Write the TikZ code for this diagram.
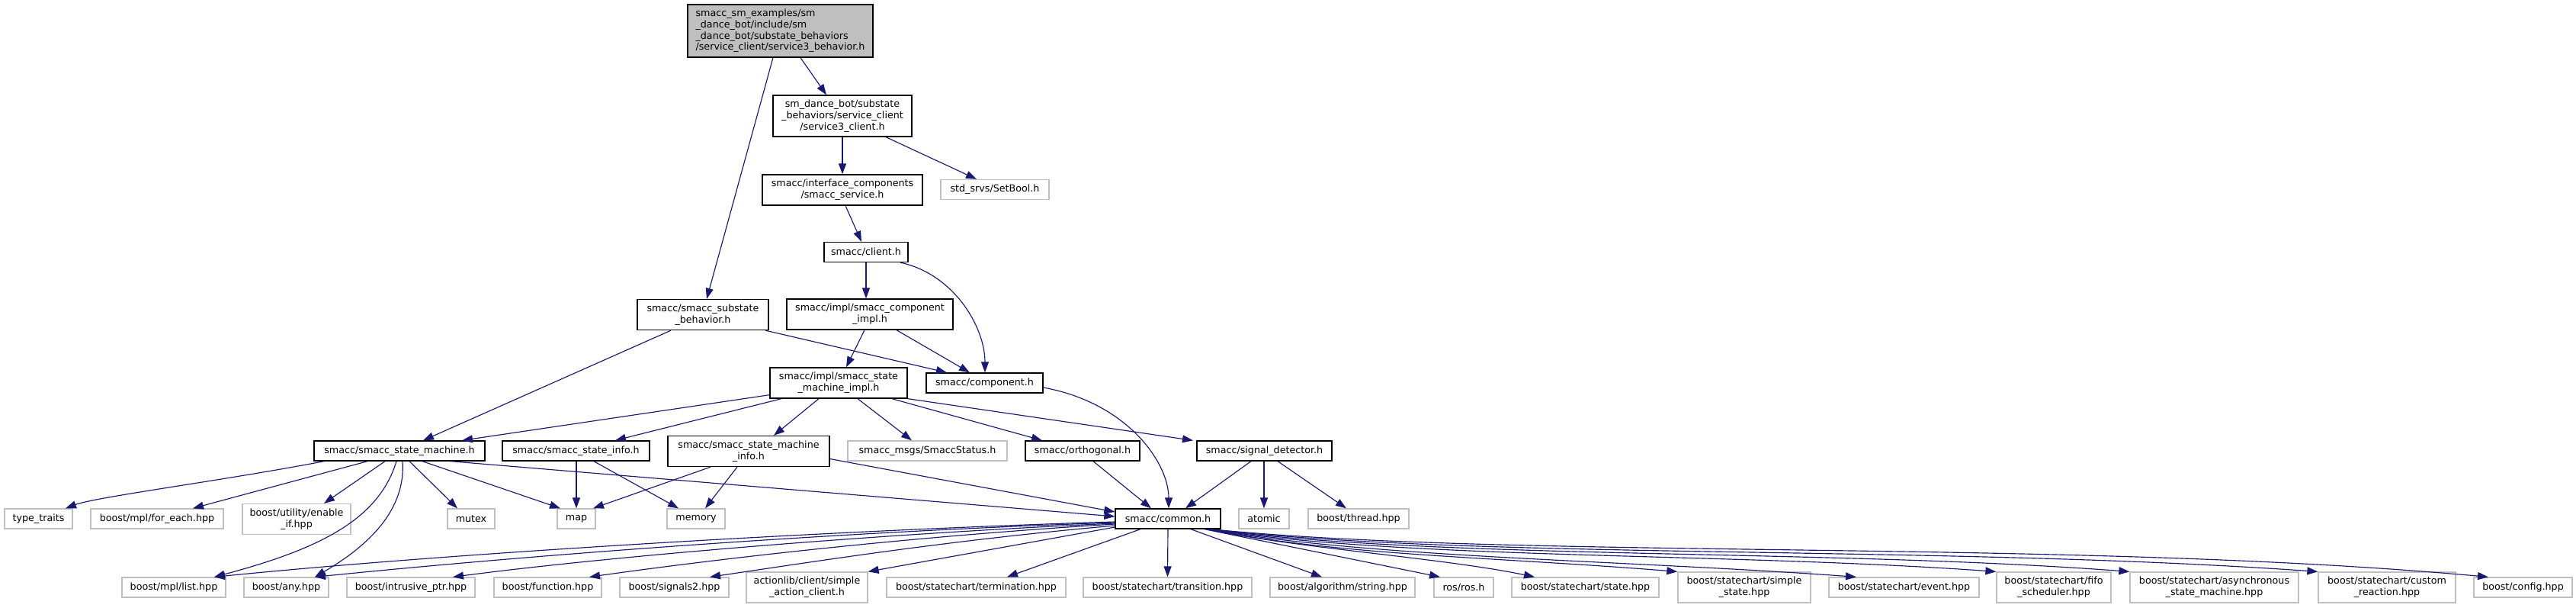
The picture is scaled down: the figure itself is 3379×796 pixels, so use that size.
\documentclass[tikz,border=0pt]{standalone}
\usepackage{fontspec}
\setmainfont{DejaVu Sans}
\usetikzlibrary{arrows.meta}
\definecolor{edgeblue}{RGB}{25,25,112}
\definecolor{extgray}{RGB}{191,191,191}
\definecolor{rootgray}{RGB}{191,191,191}
\newcommand\nodefont{\fontsize{12.7pt}{14.7pt}\selectfont}
\tikzset{
  nb/.style={draw=black, line width=1.3pt, fill=white, inner sep=0pt, align=center, font=\nodefont},
  ne/.style={nb, draw=extgray},
  rt/.style={nb, fill=rootgray, align=left},
  dep/.style={draw=edgeblue, line width=1.15pt, -{Triangle[length=14pt,width=10pt]}},
}
\begin{document}
\begin{tikzpicture}[x=1pt,y=-1pt]
\useasboundingbox (0,0) rectangle (3379,796);
% nodes
\node[rt, minimum width=243pt, minimum height=69pt] (root) at (1023.5,40.5) {smacc\_sm\_examples/sm\\\_dance\_bot/include/sm\\\_dance\_bot/substate\_behaviors\\/service\_client/service3\_behavior.h};
\node[nb, minimum width=182pt, minimum height=54pt] (s3c) at (1105,152) {sm\_dance\_bot/substate\\\_behaviors/service\_client\\/service3\_client.h};
\node[nb, minimum width=210pt, minimum height=40pt] (svc) at (1105,249) {smacc/interface\_components\\/smacc\_service.h};
\node[ne, minimum width=142pt, minimum height=26pt] (setbool) at (1305,248.5) {std\_srvs/SetBool.h};
\node[nb, minimum width=110pt, minimum height=26pt] (client) at (1136,330.5) {smacc/client.h};
\node[nb, minimum width=218pt, minimum height=40pt] (cimpl) at (1141,412) {smacc/impl/smacc\_component\\\_impl.h};
\node[nb, minimum width=172pt, minimum height=40pt] (sbeh) at (922,412.5) {smacc/smacc\_substate\\\_behavior.h};
\node[nb, minimum width=180pt, minimum height=40pt] (smimpl) at (1100,502) {smacc/impl/smacc\_state\\\_machine\_impl.h};
\node[nb, minimum width=153pt, minimum height=26pt] (comp) at (1291.5,502) {smacc/component.h};
\node[nb, minimum width=224pt, minimum height=26pt] (sm) at (524,591) {smacc/smacc\_state\_machine.h};
\node[nb, minimum width=193pt, minimum height=26pt] (sinfo) at (755.5,591) {smacc/smacc\_state\_info.h};
\node[nb, minimum width=212pt, minimum height=40pt] (sminfo) at (982,591.5) {smacc/smacc\_state\_machine\\\_info.h};
\node[ne, minimum width=209pt, minimum height=26pt] (status) at (1216.5,591) {smacc\_msgs/SmaccStatus.h};
\node[nb, minimum width=150pt, minimum height=26pt] (orth) at (1420,591) {smacc/orthogonal.h};
\node[nb, minimum width=177pt, minimum height=26pt] (sig) at (1658.5,591) {smacc/signal\_detector.h};
\node[ne, minimum width=89pt, minimum height=26pt] (tt) at (50.5,680) {type\_traits};
\node[ne, minimum width=174pt, minimum height=26pt] (fe) at (206,680) {boost/mpl/for\_each.hpp};
\node[ne, minimum width=142pt, minimum height=40pt] (ei) at (389,680.5) {boost/utility/enable\\\_if.hpp};
\node[ne, minimum width=62pt, minimum height=26pt] (mutex) at (618,680) {mutex};
\node[ne, minimum width=50pt, minimum height=26pt] (map) at (756,680) {map};
\node[ne, minimum width=76pt, minimum height=26pt] (memory) at (913,680) {memory};
\node[nb, minimum width=138pt, minimum height=26pt] (common) at (1532,680) {smacc/common.h};
\node[ne, minimum width=66pt, minimum height=26pt] (atomic) at (1658,680) {atomic};
\node[ne, minimum width=132pt, minimum height=26pt] (thread) at (1782,680) {boost/thread.hpp};
\node[ne, minimum width=136pt, minimum height=26pt] (list) at (228,770) {boost/mpl/list.hpp};
\node[ne, minimum width=111pt, minimum height=26pt] (any) at (375.5,770) {boost/any.hpp};
\node[ne, minimum width=168pt, minimum height=26pt] (intr) at (539,770) {boost/intrusive\_ptr.hpp};
\node[ne, minimum width=141pt, minimum height=26pt] (func) at (718.5,770) {boost/function.hpp};
\node[ne, minimum width=143pt, minimum height=26pt] (sigtwo) at (884.5,770) {boost/signals2.hpp};
\node[ne, minimum width=159pt, minimum height=40pt] (alib) at (1058.5,770) {actionlib/client/simple\\\_action\_client.h};
\node[ne, minimum width=235pt, minimum height=26pt] (term) at (1280.5,770) {boost/statechart/termination.hpp};
\node[ne, minimum width=221pt, minimum height=26pt] (trans) at (1531.5,770) {boost/statechart/transition.hpp};
\node[ne, minimum width=190pt, minimum height=26pt] (algo) at (1761,770) {boost/algorithm/string.hpp};
\node[ne, minimum width=78pt, minimum height=26pt] (ros) at (1920,770) {ros/ros.h};
\node[ne, minimum width=193pt, minimum height=26pt] (state) at (2079.5,770) {boost/statechart/state.hpp};
\node[ne, minimum width=174pt, minimum height=40pt] (simple) at (2288,770) {boost/statechart/simple\\\_state.hpp};
\node[ne, minimum width=197pt, minimum height=26pt] (event) at (2497.5,770) {boost/statechart/event.hpp};
\node[ne, minimum width=150pt, minimum height=40pt] (fifo) at (2694,770) {boost/statechart/fifo\\\_scheduler.hpp};
\node[ne, minimum width=221pt, minimum height=40pt] (async) at (2904.5,770) {boost/statechart/asynchronous\\\_state\_machine.hpp};
\node[ne, minimum width=180pt, minimum height=40pt] (custom) at (3131,770) {boost/statechart/custom\\\_reaction.hpp};
\node[ne, minimum width=129pt, minimum height=26pt] (config) at (3309.5,770) {boost/config.hpp};
% edges
\draw[dep] ([xshift=26.5pt]root.south) -- ([xshift=-21pt]s3c.north);
\draw[dep] ([xshift=-9.5pt]root.south) -- ([xshift=5pt]sbeh.north);
\draw[dep] (s3c.south) -- (svc.north);
\draw[dep] ([xshift=57pt]s3c.south) -- ([xshift=-24pt]setbool.north);
\draw[dep] ([xshift=4pt]svc.south) -- ([xshift=-6pt]client.north);
\draw[dep] (client.south) -- ([xshift=-5pt]cimpl.north);
\draw[dep] ([xshift=45pt]client.south) .. controls +(70,15) and +(0,-60) .. ([xshift=0.5pt]comp.north);
\draw[dep] ([xshift=-42pt]sbeh.south) -- ([xshift=31pt]sm.north);
\draw[dep] ([xshift=82pt]sbeh.south) -- ([xshift=-49.5pt]comp.north);
\draw[dep] ([xshift=-7pt]cimpl.south) -- ([xshift=10pt]smimpl.north);
\draw[dep] ([xshift=35pt]cimpl.south) -- ([xshift=-19.5pt]comp.north);
\draw[dep] ([yshift=5pt]smimpl.south west) -- ([xshift=82pt]sm.north);
\draw[dep] ([xshift=-75pt]smimpl.south) -- ([xshift=51.5pt]sinfo.north);
\draw[dep] ([xshift=-26pt]smimpl.south) -- ([xshift=33pt]sminfo.north);
\draw[dep] ([xshift=25pt]smimpl.south) -- ([xshift=-20.5pt]status.north);
\draw[dep] ([xshift=70pt]smimpl.south) -- ([xshift=-53pt]orth.north);
\draw[dep] (smimpl.south east) -- ([xshift=-93.5pt]sig.north);
\draw[dep] ([yshift=-6pt]comp.east) .. controls +(110,20) and +(0,-60) .. ([xshift=1pt]common.north);
\draw[dep] ([xshift=-99pt]sm.south) .. controls +(-130,25) and +(40,-15) .. ([xshift=35.5pt]tt.north);
\draw[dep] ([xshift=-42pt]sm.south) -- ([xshift=47pt]fe.north);
\draw[dep] ([xshift=-19pt]sm.south) -- ([xshift=36pt]ei.north);
\draw[dep] ([xshift=-4pt]sm.south) .. controls +(-23,76) and +(139,-37) .. ([xshift=53pt]list.north);
\draw[dep] ([xshift=4pt]sm.south) .. controls +(5,70) and +(60,-35) .. ([xshift=37.5pt]any.north);
\draw[dep] ([xshift=13pt]sm.south) -- ([xshift=-18pt]mutex.north);
\draw[dep] ([xshift=30pt]sm.south) -- ([xshift=-21pt]map.north);
\draw[dep] ([xshift=67pt]sm.south) -- ([yshift=3pt]common.west);
\draw[dep] ([xshift=0.5pt]sinfo.south) -- (map.north);
\draw[dep] ([xshift=23.5pt]sinfo.south) -- ([xshift=-23pt]memory.north);
\draw[dep] ([xshift=-50pt]sminfo.south) -- ([xshift=22pt]map.north);
\draw[dep] ([xshift=-15pt]sminfo.south) -- ([xshift=12pt]memory.north);
\draw[dep] ([yshift=-10pt]sminfo.east) -- ([yshift=9pt]common.west);
\draw[dep] ([xshift=14pt]orth.south) -- ([xshift=-22pt]common.north);
\draw[dep] ([xshift=-17.5pt]sig.south) -- ([xshift=23pt]common.north);
\draw[dep] ([xshift=-0.5pt]sig.south) -- (atomic.north);
\draw[dep] ([xshift=17.5pt]sig.south) -- ([xshift=-16pt]thread.north);
% common.h to the bottom row
\draw[dep] ([yshift=-4pt]common.west) .. controls +(-363,11) and +(319,-32) .. ([xshift=53pt]list.north);
\draw[dep] ([yshift=-5pt]common.west) .. controls +(-363,12) and +(287,-29) .. ([xshift=37.5pt]any.north);
\draw[dep] ([yshift=-6pt]common.west) .. controls +(-313,14) and +(206,-27) .. ([xshift=55pt]intr.north);
\draw[dep] ([yshift=-7pt]common.west) .. controls +(-263,16) and +(177,-25) .. ([xshift=54.5pt]func.north);
\draw[dep] ([yshift=-9pt]common.west) .. controls +(-215,19) and +(149,-22) .. ([xshift=46.5pt]sigtwo.north);
\draw[dep] ([yshift=-11pt]common.west) -- (alib.north east);
\draw[dep] ([xshift=-36pt]common.south) -- ([xshift=40.5pt]term.north);
\draw[dep] (common.south) -- (trans.north);
\draw[dep] ([xshift=30pt]common.south) -- ([xshift=-27pt]algo.north);
\draw[dep] ([xshift=-22pt]common.south east) -- ([xshift=-31pt]ros.north);
\draw[dep] ([xshift=-20pt]common.south east) .. controls +(120,25) and +(-120,-25) .. ([xshift=-66.5pt]state.north);
\draw[dep] ([xshift=-19pt]common.south east) .. controls +(180,35) and +(-250,-20) .. (simple.north west);
\draw[dep] ([xshift=-18pt]common.south east) .. controls +(220,38) and +(-300,-22) .. ([xshift=-62.5pt]event.north);
\draw[dep] ([xshift=-17pt]common.south east) .. controls +(260,40) and +(-350,-25) .. (fifo.north west);
\draw[dep] ([xshift=-16pt]common.south east) .. controls +(300,40) and +(-400,-30) .. (async.north west);
\draw[dep] ([xshift=-15pt]common.south east) .. controls +(350,40) and +(-500,-35) .. (custom.north west);
\draw[dep] ([xshift=-14pt]common.south east) .. controls +(400,40) and +(-550,-50) .. ([xshift=-45.5pt]config.north);
\end{tikzpicture}
\end{document}
